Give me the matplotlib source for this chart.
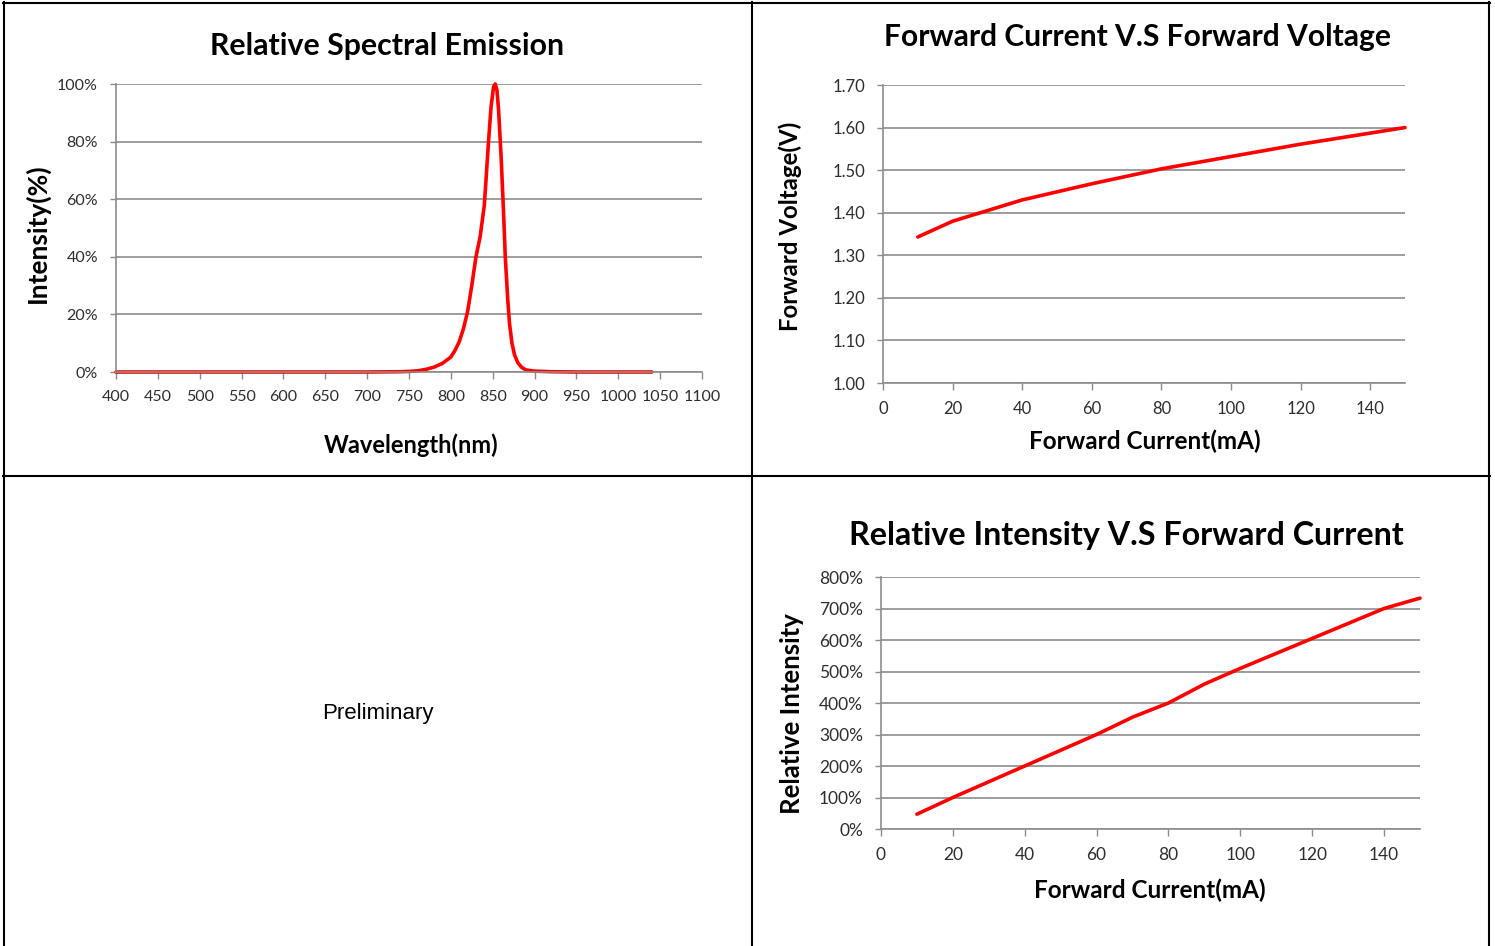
import matplotlib
matplotlib.use("Agg")
import matplotlib.pyplot as plt
from matplotlib.lines import Line2D
from matplotlib.ticker import FuncFormatter

W, H = 1495, 946
FONT = "Lato"

# ---------------- data ----------------
wavelength_nm = [400, 500, 600, 700, 740, 750, 760, 770, 780, 790, 800, 805, 810, 815,
                 820, 825, 830, 835, 840, 845, 848, 851, 853, 855, 857, 860, 863,
                 865, 868, 870, 873, 876, 880, 885, 890, 900, 920, 950, 1000, 1040]
spectral_pct = [0, 0, 0, 0, 0.1, 0.2, 0.4, 0.9, 1.7, 3.0, 5.2, 7.5, 10.5, 15,
                21, 30, 40, 47, 58, 80, 92, 99, 100, 98, 91, 75, 55,
                40, 25, 17, 10, 6, 3.2, 1.5, 0.7, 0.3, 0.1, 0, 0, 0]

fv_current_ma = [10, 20, 30, 40, 60, 80, 100, 120, 140, 150]
fv_voltage_v = [1.343, 1.38, 1.405, 1.43, 1.468, 1.503, 1.532, 1.561, 1.587, 1.60]

ri_current_ma = [10, 20, 40, 60, 70, 80, 90, 100, 120, 140, 150]
ri_intensity_pct = [47, 100, 200, 300, 355, 400, 460, 510, 605, 700, 733]

spec_xticks = list(range(400, 1101, 50))
spec_yticks = [0, 20, 40, 60, 80, 100]
fv_xticks = list(range(0, 141, 20))
fv_yticks = [1.00, 1.10, 1.20, 1.30, 1.40, 1.50, 1.60, 1.70]
ri_xticks = list(range(0, 141, 20))
ri_yticks = list(range(0, 801, 100))

# ---------------- figure ----------------
fig = plt.figure(figsize=(W / 100, H / 100), dpi=100)
fig.patch.set_facecolor("white")


def px_axes(l, t, r, b):
    return fig.add_axes([l / W, 1 - b / H, (r - l) / W, (b - t) / H])


def ftext(x, y, s, **kw):
    fig.text(x / W, 1 - y / H, s, **kw)


GRID = "#8c8c8c"
TICKC = "#2e2e2e"


def style(ax, xlim, ylim, xticks, yticks, xfmt, yfmt, labelsize):
    ax.set_xlim(*xlim)
    ax.set_ylim(*ylim)
    ax.set_xticks(xticks)
    ax.set_yticks(yticks)
    ax.xaxis.set_major_formatter(FuncFormatter(xfmt))
    ax.yaxis.set_major_formatter(FuncFormatter(yfmt))
    for s in ("top", "right"):
        ax.spines[s].set_visible(False)
    for s in ("left", "bottom"):
        ax.spines[s].set_color(GRID)
        ax.spines[s].set_linewidth(1.2)
    ax.yaxis.grid(True, color=GRID, linewidth=1.2)
    ax.set_axisbelow(True)
    ax.tick_params(axis="both", direction="out", color=GRID, length=4,
                   width=1.0, labelsize=labelsize, labelcolor=TICKC)
    ax.tick_params(axis="x", length=5, pad=8)
    ax.tick_params(axis="y", pad=9)
    for lab in ax.get_xticklabels() + ax.get_yticklabels():
        lab.set_fontfamily(FONT)
    ax.patch.set_alpha(0)


LW = 2.6

# Chart 1: spectral emission
ax1 = px_axes(116, 84, 702, 372)
ax1.plot(wavelength_nm, spectral_pct, color="#ff0000", linewidth=LW,
         solid_joinstyle="round", solid_capstyle="round", clip_on=False)
style(ax1, (400, 1100), (0, 100), spec_xticks, spec_yticks,
      lambda v, p: f"{int(v)}", lambda v, p: f"{int(v)}%", 11.5)

# Chart 2: forward voltage
ax2 = px_axes(883, 85, 1405, 383)
ax2.plot(fv_current_ma, fv_voltage_v, color="#ff0000", linewidth=LW,
         solid_joinstyle="round", solid_capstyle="round", clip_on=False)
style(ax2, (0, 150), (1.0, 1.7), fv_xticks, fv_yticks,
      lambda v, p: f"{int(v)}", lambda v, p: f"{v:.2f}", 12)

# Chart 3: relative intensity
ax3 = px_axes(881, 577, 1420, 829)
ax3.plot(ri_current_ma, ri_intensity_pct, color="#ff0000", linewidth=LW,
         solid_joinstyle="round", solid_capstyle="round", clip_on=False)
style(ax3, (0, 150), (0, 800), ri_xticks, ri_yticks,
      lambda v, p: f"{int(v)}", lambda v, p: f"{int(v)}%", 12.5)

# titles and labels
tkw = dict(fontfamily=FONT, fontweight="bold", color="black", ha="center", va="center")
ftext(387, 46, "Relative Spectral Emission", fontsize=21.8, **tkw)
ftext(1138, 37, "Forward Current V.S Forward Voltage", fontsize=21.6, **tkw)
ftext(1126, 536, "Relative Intensity V.S Forward Current", fontsize=23.2, **tkw)

ftext(411, 445, "Wavelength(nm)", fontsize=17, **tkw)
ftext(37, 233, "Intensity(%)", fontsize=19, rotation=90, **tkw)
ftext(1145, 441, "Forward Current(mA)", fontsize=17.5, **tkw)
ftext(790, 226, "Forward Voltage(V)", fontsize=17.3, rotation=90, **tkw)
ftext(1150, 890, "Forward Current(mA)", fontsize=17.5, **tkw)
ftext(792, 714, "Relative Intensity", fontsize=18.5, rotation=90, **tkw)

ftext(378, 713, "Preliminary", fontsize=16, fontfamily="Liberation Sans",
      color="black", ha="center", va="center")

# table borders
def hline(y, x0, x1):
    fig.add_artist(Line2D([x0 / W, x1 / W], [1 - y / H, 1 - y / H],
                          color="black", linewidth=1.5, transform=fig.transFigure))


def vline(x, y0, y1):
    fig.add_artist(Line2D([x / W, x / W], [1 - y0 / H, 1 - y1 / H],
                          color="black", linewidth=1.5, transform=fig.transFigure))

hline(3, 3, 1490)
hline(476, 3, 1490)
vline(4, 2, 946)
vline(752, 2, 946)
vline(1489, 2, 946)

fig.savefig("out.png", dpi=100, facecolor="white")
